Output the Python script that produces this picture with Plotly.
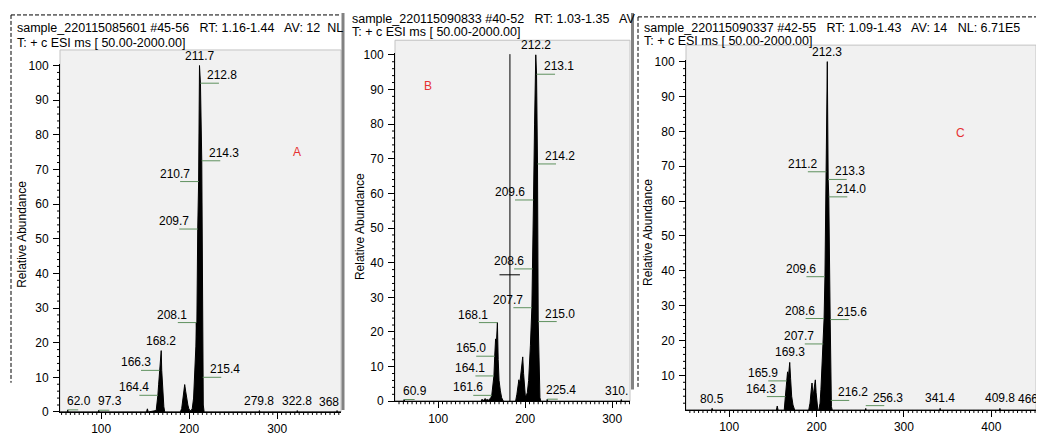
import plotly.graph_objects as go

# ------------------------------------------------------------------ data
# Panel A : sample_220115085601
mz_a = [53.2, 61.5, 62.0, 62.5, 96.8, 97.3, 97.8, 151.5, 152.5, 153.5,
        162.5, 163.5, 164.4, 165.3, 166.3, 167.3, 168.2, 168.8, 169.5, 170.3,
        171.2, 172.2, 190.0, 191.5, 193.0, 194.9, 196.0, 197.0, 198.5, 199.5,
        200.5, 202.0, 203.5, 205.0, 206.5, 207.6, 208.1, 208.6, 209.7, 210.7,
        211.7, 212.8, 214.3, 214.9, 215.4, 216.0, 217.0, 279.3, 279.8, 280.3,
        322.3, 322.8, 323.3, 367.5, 368.0, 368.5, 372.5]
ab_a = [0, 0, 0.6, 0, 0, 0.5, 0, 0, 0.9, 0,
        0.4, 2, 4.8, 8, 12, 14.5, 17.7, 12, 8, 4,
        1.5, 0, 0, 1, 4, 7.9, 6, 4, 2, 1,
        0.5, 0.3, 1, 4, 12, 19, 25.8, 22, 52.8, 66.5,
        100, 94.9, 72.5, 40, 10, 2, 0, 0, 0.4, 0,
        0, 0.4, 0, 0, 0.4, 0, 0]
lab_a_text = ["211.7", "212.8", "214.3", "210.7", "209.7", "208.1", "215.4",
              "168.2", "166.3", "164.4", "62.0", "97.3", "279.8", "322.8", "368"]
lab_a_mz = [211.7, 212.8, 214.3, 210.7, 209.7, 208.1, 215.4,
            168.2, 166.3, 164.4, 62.0, 97.3, 279.8, 322.8, 368.0]
lab_a_y = [100, 94.9, 72.5, 66.5, 52.8, 25.8, 10,
           17.7, 12, 4.8, 0.6, 0.5, 0.4, 0.4, 0.4]
lab_a_side = ["t", "r", "r", "l", "l", "l", "r",
              "t", "l", "l", "b", "b", "t", "t", "c"]

# Panel B : sample_220115090833
mz_b = [50.4, 60.4, 60.9, 61.4, 149.5, 150.5, 151.5, 153.0, 154.0, 155.0,
        156.5, 158.0, 159.5, 160.5, 161.6, 162.8, 164.1, 165.0, 166.0, 167.0,
        168.1, 169.0, 170.0, 171.5, 173.0, 175.0, 189.0, 190.5, 192.0, 192.8,
        193.8, 195.0, 196.2, 197.2, 198.2, 199.2, 200.2, 201.2, 202.5, 204.0,
        205.0, 206.0, 207.7, 208.6, 209.6, 210.8, 212.2, 213.1, 214.2, 215.0,
        216.0, 217.0, 218.0, 224.9, 225.4, 225.9, 310.0, 310.5, 311.0, 320.5]
ab_b = [0, 0, 0.5, 0, 0, 0.6, 0, 0.4, 0.8, 0.3,
        0.5, 0.3, 0.6, 1, 1.7, 4, 7.3, 13, 18, 17,
        22.7, 12, 6, 3, 1, 0, 0, 2, 5.5, 6.2,
        5, 8, 12, 12.8, 8, 3, 1.5, 1.5, 2.5, 6,
        10, 16, 27, 38.2, 58.1, 80, 100, 94.4, 68.5, 23,
        5, 1, 0, 0, 0.6, 0, 0, 0.5, 0, 0]
lab_b_text = ["212.2", "213.1", "214.2", "209.6", "208.6", "207.7", "215.0",
              "168.1", "165.0", "164.1", "161.6", "60.9", "225.4", "310."]
lab_b_mz = [212.2, 213.1, 214.2, 209.6, 208.6, 207.7, 215.0,
            168.1, 165.0, 164.1, 161.6, 60.9, 225.4, 310.5]
lab_b_y = [100, 94.4, 68.5, 58.1, 38.2, 27, 23,
           22.7, 13, 7.3, 1.7, 0.5, 0.6, 0.5]
lab_b_side = ["t", "r", "r", "l", "l", "l", "r",
              "l", "l", "l", "l", "b", "b", "c"]
cursor_b_mz = 182.5
cursor_b_top = 100.2
cursor_b_level = 36.5
cursor_b_span = [170.5, 194.0]

# Panel C : sample_220115090337
mz_c = [50.6, 80.0, 80.5, 81.0, 154.0, 155.0, 156.0, 163.0, 164.3, 165.3,
        165.9, 166.8, 167.6, 168.5, 169.3, 170.3, 171.5, 173.0, 175.0, 191.0,
        192.5, 194.0, 194.8, 196.0, 197.5, 198.6, 199.5, 200.5, 201.5, 202.5,
        204.0, 205.0, 206.0, 207.7, 208.6, 209.6, 211.2, 212.3, 213.3, 214.0,
        215.6, 216.2, 217.0, 218.0, 255.8, 256.3, 256.8, 340.9, 341.4, 341.9,
        409.3, 409.8, 410.3, 451.1]
ab_c = [0, 0, 0.5, 0, 0, 1.2, 0, 0, 3.9, 7,
        8.4, 11, 9, 12.5, 13.7, 9, 4, 1.5, 0, 0,
        2, 6, 7.8, 4, 7, 8.7, 5, 1, 0, 0,
        2, 6, 11, 19, 26.3, 38.3, 68.4, 100, 66.2, 61.2,
        26, 2.8, 1, 0, 0, 0.5, 0, 0, 0.5, 0,
        0, 0.5, 0, 0]
lab_c_text = ["212.3", "211.2", "213.3", "214.0", "209.6", "208.6", "215.6",
              "207.7", "169.3", "165.9", "164.3", "216.2", "256.3", "80.5",
              "341.4", "409.8", "466"]
lab_c_mz = [212.3, 211.2, 213.3, 214.0, 209.6, 208.6, 215.6,
            207.7, 169.3, 165.9, 164.3, 216.2, 256.3, 80.5,
            341.4, 409.8, 466.0]
lab_c_y = [100, 68.4, 66.2, 61.2, 38.3, 26.3, 26,
           19, 13.7, 8.4, 3.9, 2.8, 1.3, 0.3,
           0.6, 0.5, 0.5]
lab_c_side = ["t", "l", "r", "r", "l", "l", "r",
              "l", "t", "l", "l", "r", "r", "t",
              "t", "t", "c"]

header_a = ["sample_220115085601 #45-56 \u00a0 RT: 1.16-1.44 \u00a0 AV: 12 \u00a0NL",
            "T: + c ESI ms [ 50.00-2000.00]"]
header_b = ["sample_220115090833 #40-52 \u00a0 RT: 1.03-1.35 \u00a0 AV",
            "T: + c ESI ms [ 50.00-2000.00]"]
header_c = ["sample_220115090337 #42-55 \u00a0 RT: 1.09-1.43 \u00a0 AV: 14 \u00a0 NL: 6.71E5",
            "T: + c ESI ms [ 50.00-2000.00]"]
panel_letters = ["A", "B", "C"]
y_title = "Relative Abundance"

# ------------------------------------------------------------------ layout helpers
W, H = 1044, 445
FONT = "Liberation Sans, Arial, sans-serif"
GREEN = "rgb(95,145,95)"
BOXFILL = "rgb(241,241,241)"


def fx(p):
    return p / W


def fy(p):
    return 1 - p / H


fig = go.Figure()

panels = [
    dict(x="x", y="y", mz=mz_a, ab=ab_a, lt=lab_a_text, lm=lab_a_mz, ly=lab_a_y, ls=lab_a_side,
         dom_x=(52, 333), dom_y=(410, 52.2), xr=[53.2, 372.5], yr=[0, 100.5],
         box=(52, 38, 333, 410), edge=0),
    dict(x="x2", y="y2", mz=mz_b, ab=ab_b, lt=lab_b_text, lm=lab_b_mz, ly=lab_b_y, ls=lab_b_side,
         dom_x=(387, 622), dom_y=(399, 41.2), xr=[50.4, 320.5], yr=[0, 100.5],
         box=(387, 28, 622, 399), edge=0),
    dict(x="x3", y="y3", mz=mz_c, ab=ab_c, lt=lab_c_text, lm=lab_c_mz, ly=lab_c_y, ls=lab_c_side,
         dom_x=(678, 1028), dom_y=(408, 48.2), xr=[50.6, 451.1], yr=[0.05, 100.5],
         box=(678, 33, 1028, 408), edge=4),
]

annotations = []
shapes = []
layout_axes = {}
tickfont = dict(family=FONT, size=12, color="black")

for i, p in enumerate(panels):
    fig.add_trace(go.Scatter(x=p["mz"], y=p["ab"], mode="lines", fill="tozeroy",
                             fillcolor="black", line=dict(color="black", width=1),
                             xaxis=p["x"], yaxis=p["y"], hoverinfo="skip"))
    sfx = "" if i == 0 else str(i + 1)
    layout_axes["xaxis" + sfx] = dict(
        domain=[fx(p["dom_x"][0]), fx(p["dom_x"][1])], range=p["xr"], anchor=p["y"],
        tickmode="linear", tick0=0, dtick=100, ticks="outside", ticklen=6, tickwidth=1,
        tickcolor="black", showline=True, linecolor="black", linewidth=1,
        showgrid=False, zeroline=False, tickfont=tickfont)
    layout_axes["yaxis" + sfx] = dict(
        domain=[fy(p["dom_y"][0]), fy(p["dom_y"][1])], range=p["yr"], anchor=p["x"],
        tickmode="linear", tick0=0, dtick=10, ticks="outside", ticklen=6, tickwidth=1,
        tickcolor="black", showline=True, linecolor="black", linewidth=1,
        showgrid=False, zeroline=False, tickfont=tickfont, ticklabelstandoff=2)

    # minor ticks drawn as axis-referenced shapes (pixel length)
    for v in range(0, 1000, 5):
        if p["xr"][0] <= v <= p["xr"][1] and v % 100 != 0:
            shapes.append(dict(type="line", xref=p["x"], yref="paper", ysizemode="pixel",
                               yanchor=fy(p["dom_y"][0]), x0=v, x1=v, y0=0, y1=-3,
                               line=dict(color="black", width=1), layer="above"))
    for v in range(0, 101, 2):
        if p["yr"][0] <= v <= p["yr"][1] and v % 10 != 0:
            shapes.append(dict(type="line", yref=p["y"], xref="paper", xsizemode="pixel",
                               xanchor=fx(p["dom_x"][0]), y0=v, y1=v, x0=0, x1=-3,
                               line=dict(color="black", width=1), layer="above"))

    bx0, by0, bx1, by1 = p["box"]
    shapes.append(dict(type="rect", xref="paper", yref="paper", layer="below",
                       x0=fx(bx0), x1=fx(bx1), y0=fy(by1), y1=fy(by0),
                       fillcolor=BOXFILL, line=dict(color="rgb(195,195,195)", width=1)))

    # peak labels
    for t, m, v, s in zip(p["lt"], p["lm"], p["ly"], p["ls"]):
        base = dict(xref=p["x"], yref=p["y"], x=m, y=v, text=t, showarrow=False,
                    font=dict(family=FONT, size=12, color="black"), yanchor="bottom")
        if s == "t":
            base.update(xanchor="center", yshift=1)
            annotations.append(base)
        elif s == "l":
            base.update(xanchor="right", xshift=-7, yshift=-1)
            annotations.append(base)
            annotations.append(dict(xref=p["x"], yref=p["y"], x=m, y=v, text="", showarrow=True,
                                    ax=-20, ay=0, arrowhead=0, arrowwidth=1, arrowcolor=GREEN,
                                    standoff=0, startstandoff=0))
        elif s == "r":
            base.update(xanchor="left", xshift=5, yshift=-1)
            annotations.append(base)
            annotations.append(dict(xref=p["x"], yref=p["y"], x=m, y=v, text="", showarrow=True,
                                    ax=20, ay=0, arrowhead=0, arrowwidth=1, arrowcolor=GREEN,
                                    standoff=0, startstandoff=0))
        elif s == "b":
            base.update(xanchor="left", xshift=-3)
            annotations.append(base)
            annotations.append(dict(xref=p["x"], yref=p["y"], x=m, y=v, text="", showarrow=True,
                                    ax=12, ay=0, arrowhead=0, arrowwidth=1, arrowcolor=GREEN,
                                    standoff=0, startstandoff=0))
        elif s == "c":
            base.update(xref=p["x"] + " domain", x=1, xanchor="right", xshift=p["edge"])
            annotations.append(base)

# cursor in panel B
fig.add_trace(go.Scatter(x=[cursor_b_mz, cursor_b_mz], y=[0, cursor_b_top], mode="lines",
                         line=dict(color="black", width=1), xaxis="x2", yaxis="y2",
                         hoverinfo="skip"))
fig.add_trace(go.Scatter(x=cursor_b_span, y=[cursor_b_level, cursor_b_level], mode="lines",
                         line=dict(color="black", width=1), xaxis="x2", yaxis="y2",
                         hoverinfo="skip"))

# headers
hdr_font = dict(family=FONT, size=12.5, color="black")
for (lines, x0, ys) in [(header_a, 7, (15, 31)), (header_b, 342, (6, 20)),
                        (header_c, 634, (15, 29))]:
    for line, yy in zip(lines, ys):
        annotations.append(dict(xref="paper", yref="paper", x=fx(x0), y=fy(yy), text=line,
                                showarrow=False, xanchor="left", yanchor="middle", font=hdr_font))

# y titles
for xx, yy in [(14, 228), (352, 220), (640, 226)]:
    annotations.append(dict(xref="paper", yref="paper", x=fx(xx), y=fy(yy), text=y_title,
                            textangle=-90, showarrow=False, xanchor="center", yanchor="middle",
                            font=dict(family=FONT, size=12, color="black")))

# red panel letters
for letter, (xx, yy) in zip(panel_letters, [(289, 143), (420, 75), (952, 123)]):
    annotations.append(dict(xref="paper", yref="paper", x=fx(xx), y=fy(yy), text=letter,
                            showarrow=False, xanchor="center", yanchor="middle",
                            font=dict(family=FONT, size=12, color="rgb(230,50,50)")))

# frames / separators
shapes += [
    dict(type="line", xref="paper", yref="paper", x0=fx(3), x1=fx(3), y0=fy(2), y1=fy(380),
         line=dict(color="black", width=1, dash="4px,2px")),
    dict(type="line", xref="paper", yref="paper", x0=fx(3), x1=fx(333), y0=fy(2), y1=fy(2),
         line=dict(color="black", width=1, dash="4px,2px")),
    dict(type="line", xref="paper", yref="paper", x0=fx(630), x1=fx(630), y0=fy(4), y1=fy(385),
         line=dict(color="black", width=1, dash="4px,2px")),
    dict(type="line", xref="paper", yref="paper", x0=fx(630), x1=fx(1044), y0=fy(4), y1=fy(4),
         line=dict(color="black", width=1, dash="4px,2px")),
    dict(type="line", xref="paper", yref="paper", x0=fx(335), x1=fx(335), y0=fy(0), y1=fy(408),
         line=dict(color="rgb(130,130,130)", width=3)),
    dict(type="line", xref="paper", yref="paper", x0=fx(624.5), x1=fx(624.5), y0=fy(0), y1=fy(387),
         line=dict(color="rgb(130,130,130)", width=3)),
]

fig.update_layout(width=W, height=H, margin=dict(l=0, r=0, t=0, b=0),
                  paper_bgcolor="white", plot_bgcolor="rgba(0,0,0,0)",
                  showlegend=False, annotations=annotations, shapes=shapes,
                  font=dict(family=FONT, size=12, color="black"), **layout_axes)

fig.write_html("out.html")
